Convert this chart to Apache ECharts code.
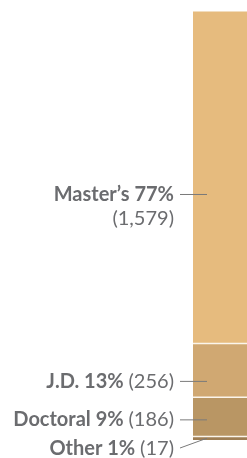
<!DOCTYPE html>
<html>
<head>
<meta charset="utf-8">
<script src="https://cdn.jsdelivr.net/npm/echarts@6/dist/echarts.min.js"></script>
<style>
  html, body { margin: 0; padding: 0; background: #fff; }
  #chart { width: 247px; height: 458px; }
</style>
</head>
<body>
<div id="chart"></div>
<script>
// degree types, top of the bar to bottom
const names = ['Master\u2019s', 'J.D.', 'Doctoral', 'Other'];
const percents = [77, 13, 9, 1];
const counts = [1579, 256, 186, 17];
const colors = ['#e6bb7e', '#d0a872', '#b99664', '#9e7e55'];

const total = counts.reduce((a, b) => a + b, 0);

// stack from the bottom up
const order = [3, 2, 1, 0];
let acc = 0;
const spans = {};
order.forEach(i => {
  spans[i] = [acc, acc + counts[i]];
  acc += counts[i];
});

// small nudges so the labels sit where the original put them
const labelShift = [17, 11, 3, 0];

const fmt = n => n.toLocaleString('en-US');

const barSeries = order.map(i => ({
  name: names[i],
  type: 'bar',
  stack: 'all',
  barWidth: '100%',
  itemStyle: { color: colors[i] },
  data: [counts[i]]
}));

const labelSeries = {
  type: 'custom',
  coordinateSystem: 'cartesian2d',
  clip: false,
  z: 5,
  data: names.map((n, i) => [0, spans[i][0], spans[i][1], i]),
  encode: { x: 0, y: 1 },
  renderItem: (params, api) => {
    const i = api.value(3);
    const top = api.coord([0, api.value(2)]);
    const bot = api.coord([0, api.value(1)]);
    const bw = api.size([1, 0])[0];
    const left = top[0] - bw / 2;
    const mid = (top[1] + bot[1]) / 2;
    const children = [];
    const textStyle = {
      fill: '#6b6c6f',
      align: 'right',
      rich: {
        b: { fontFamily: 'Lato', fontWeight: 'bold', fontSize: 20, fill: '#6b6c6f', lineHeight: 24 },
        n: { fontFamily: 'Lato', fontSize: 20, fill: '#6b6c6f', lineHeight: 24 }
      }
    };
    const head = '{b|' + names[i] + ' ' + percents[i] + '% }';
    const tail = '{n|(' + fmt(counts[i]) + ')}';
    let ty, lineFrom, lineTo;
    if (i === 0) {
      ty = mid + labelShift[i];
      children.push({
        type: 'text',
        style: Object.assign({
          text: '{b|' + names[i] + ' ' + percents[i] + '%}\n' + tail,
          x: left - 19, y: ty - 12, verticalAlign: 'top'
        }, textStyle)
      });
      lineFrom = [left - 13, ty];
      lineTo = [left + 14, ty];
    } else if (i === names.length - 1) {
      ty = bot[1] + 9;
      children.push({
        type: 'text',
        style: Object.assign({
          text: head + tail,
          x: left - 19, y: ty, verticalAlign: 'middle'
        }, textStyle)
      });
      lineFrom = [left - 13, ty - 1];
      lineTo = [left + 14, mid];
    } else {
      ty = mid + labelShift[i];
      children.push({
        type: 'text',
        style: Object.assign({
          text: head + tail,
          x: left - 19, y: ty, verticalAlign: 'middle'
        }, textStyle)
      });
      lineFrom = [left - 13, ty];
      lineTo = [left + 14, ty];
    }
    children.push({
      type: 'line',
      shape: { x1: lineFrom[0], y1: lineFrom[1], x2: lineTo[0], y2: lineTo[1] },
      style: { stroke: '#7a7a7a', lineWidth: 1 }
    });
    // thin light rule at the top of every segment but the highest one
    if (i !== 0) {
      children.push({
        type: 'rect',
        shape: { x: left, y: top[1] - 0.75, width: bw, height: 1.5 },
        style: { fill: '#fbf5ec' }
      });
    }
    return { type: 'group', children: children };
  }
};

const chart = echarts.init(document.getElementById('chart'));
chart.setOption({
  animation: false,
  grid: { left: 193, right: 0, top: 11.5, bottom: 18 },
  xAxis: {
    type: 'category',
    data: ['all'],
    show: false
  },
  yAxis: {
    type: 'value',
    min: 0,
    max: total,
    show: false
  },
  series: barSeries.concat([labelSeries])
});
</script>
</body>
</html>
